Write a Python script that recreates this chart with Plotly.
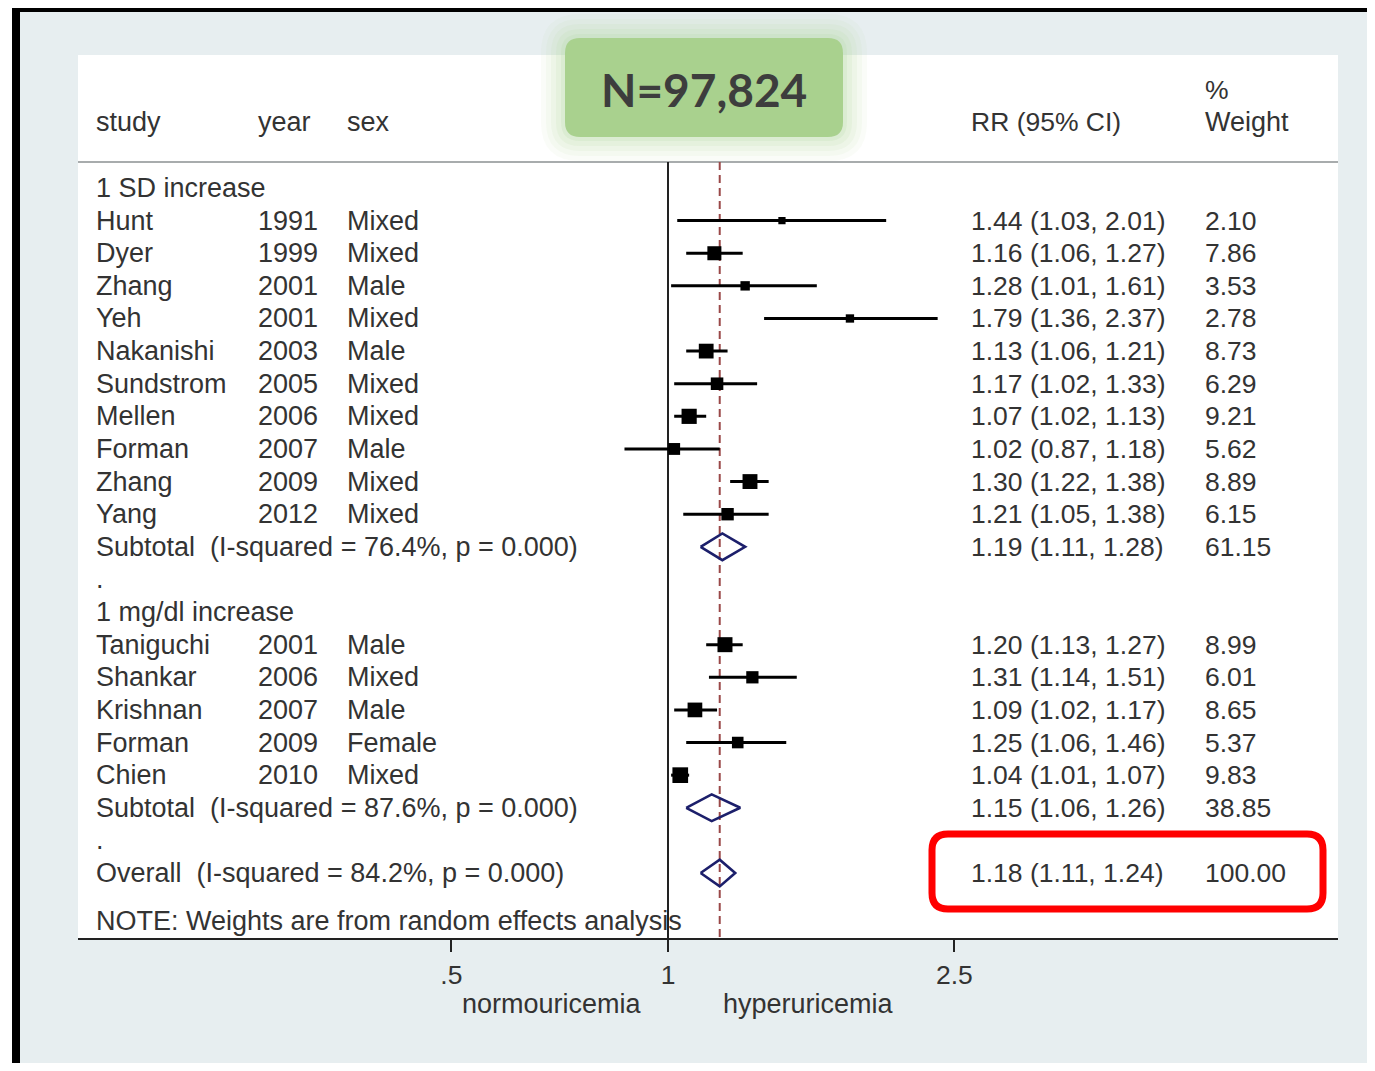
import math
import plotly.graph_objects as go

# ---------------- data ----------------
group_labels = ["1 SD increase", "1 mg/dl increase"]

studies1 = ["Hunt", "Dyer", "Zhang", "Yeh", "Nakanishi", "Sundstrom", "Mellen", "Forman", "Zhang", "Yang"]
years1 = [1991, 1999, 2001, 2001, 2003, 2005, 2006, 2007, 2009, 2012]
sex1 = ["Mixed", "Mixed", "Male", "Mixed", "Male", "Mixed", "Mixed", "Male", "Mixed", "Mixed"]
rr1 = [1.44, 1.16, 1.28, 1.79, 1.13, 1.17, 1.07, 1.02, 1.30, 1.21]
lo1 = [1.03, 1.06, 1.01, 1.36, 1.06, 1.02, 1.02, 0.87, 1.22, 1.05]
hi1 = [2.01, 1.27, 1.61, 2.37, 1.21, 1.33, 1.13, 1.18, 1.38, 1.38]
w1 = [2.10, 7.86, 3.53, 2.78, 8.73, 6.29, 9.21, 5.62, 8.89, 6.15]
sub1 = {"rr": 1.19, "lo": 1.11, "hi": 1.28, "w": 61.15, "i2": "76.4%", "p": "0.000"}

studies2 = ["Taniguchi", "Shankar", "Krishnan", "Forman", "Chien"]
years2 = [2001, 2006, 2007, 2009, 2010]
sex2 = ["Male", "Mixed", "Male", "Female", "Mixed"]
rr2 = [1.20, 1.31, 1.09, 1.25, 1.04]
lo2 = [1.13, 1.14, 1.02, 1.06, 1.01]
hi2 = [1.27, 1.51, 1.17, 1.46, 1.07]
w2 = [8.99, 6.01, 8.65, 5.37, 9.83]
sub2 = {"rr": 1.15, "lo": 1.06, "hi": 1.26, "w": 38.85, "i2": "87.6%", "p": "0.000"}

overall = {"rr": 1.18, "lo": 1.11, "hi": 1.24, "w": 100.00, "i2": "84.2%", "p": "0.000"}

tick_vals = [0.5, 1, 2.5]
tick_text = [".5", "1", "2.5"]
n_label = "N=97,824"
note_text = "NOTE: Weights are from random effects analysis"

# ---------------- layout constants ----------------
OFF = 8                                    # page body margin
PAGE_W, PAGE_H = 1375, 1071
W, H = PAGE_W - 2 * OFF, PAGE_H - 2 * OFF  # figure size (avoid scrollbars)
# positions below are page pixels; converted to figure pixels by subtracting OFF
PL, PR, PT, PB = 78, 1338, 55, 938         # plot area
ROW0, ROWH = 188, 32.62                    # first row centre, row height
PX_PER_LN, X_ONE = 312.5, 668

def px_x(px):
    return (px - PL) / (PR - PL)

def px_y(py):
    return (PB - py) / (PB - PT)

def row_of(py):
    return (py - ROW0) / ROWH

FONT = "Liberation Sans, Arial, sans-serif"
TXT = "#333333"
TS = 27     # text size
NS = 26.5   # number size

fig = go.Figure()

# ---------------- rows ----------------
rows = []
rows.append(("label", group_labels[0]))
for i in range(len(studies1)):
    rows.append(("study", (studies1[i], years1[i], sex1[i], rr1[i], lo1[i], hi1[i], w1[i])))
rows.append(("sub", ("Subtotal", sub1)))
rows.append(("dot", None))
rows.append(("label", group_labels[1]))
for i in range(len(studies2)):
    rows.append(("study", (studies2[i], years2[i], sex2[i], rr2[i], lo2[i], hi2[i], w2[i])))
rows.append(("sub", ("Subtotal", sub2)))
rows.append(("dot", None))
rows.append(("sub", ("Overall", overall)))

xcol = {"study": px_x(94), "year": px_x(256), "sex": px_x(345), "ci": px_x(969), "w": px_x(1203)}

annotations = []

def add_text(x, y, text, size=TS, yref="y"):
    annotations.append(dict(x=x, y=y, xref="paper", yref=yref, text=text, showarrow=False,
                            xanchor="left", yanchor="middle",
                            font=dict(family=FONT, size=size, color=TXT)))

# reference lines (drawn first, under marks)
top_row = row_of(162)
bot_row = row_of(PB)
fig.add_trace(go.Scatter(x=[overall["rr"], overall["rr"]], y=[top_row, bot_row], mode="lines",
                         line=dict(color="#9a4848", width=2, dash="8px,5px"),
                         hoverinfo="skip", showlegend=False))
fig.add_trace(go.Scatter(x=[1, 1], y=[top_row, bot_row], mode="lines",
                         line=dict(color="#222222", width=2),
                         hoverinfo="skip", showlegend=False))

ci_x, ci_y, mk_x, mk_y, mk_s = [], [], [], [], []
dia_x, dia_y = [], []
DH = 0.41

for r, (kind, p) in enumerate(rows):
    if kind == "label":
        add_text(xcol["study"], r, p)
    elif kind == "dot":
        add_text(xcol["study"], r, ".")
    elif kind == "study":
        name, yr, sx, rr, lo, hi, w = p
        add_text(xcol["study"], r, name)
        add_text(xcol["year"], r, str(yr))
        add_text(xcol["sex"], r, sx)
        add_text(xcol["ci"], r, f"{rr:.2f} ({lo:.2f}, {hi:.2f})", NS)
        add_text(xcol["w"], r, f"{w:.2f}", NS)
        ci_x += [lo, hi, None]
        ci_y += [r, r, None]
        mk_x.append(rr)
        mk_y.append(r)
        mk_s.append(5.0 * math.sqrt(w))
    elif kind == "sub":
        name, d = p
        add_text(xcol["study"], r,
                 f"{name}\u00a0\u00a0(I-squared = {d['i2']}, p = {d['p']})")
        add_text(xcol["ci"], r, f"{d['rr']:.2f} ({d['lo']:.2f}, {d['hi']:.2f})", NS)
        add_text(xcol["w"], r, f"{d['w']:.2f}", NS)
        dia_x += [d["lo"], d["rr"], d["hi"], d["rr"], d["lo"], None]
        dia_y += [r, r - DH, r, r + DH, r, None]

# note
add_text(xcol["study"], row_of(921), note_text)

# header
add_text(xcol["study"], row_of(122), "study")
add_text(xcol["year"], row_of(122), "year")
add_text(xcol["sex"], row_of(122), "sex")
add_text(xcol["ci"], row_of(122), "RR (95% CI)", NS)
add_text(xcol["w"], row_of(90), "%", NS)
add_text(xcol["w"], row_of(122), "Weight", TS)

# favours labels
for txt, cx in [("normouricemia", 552), ("hyperuricemia", 808)]:
    annotations.append(dict(x=px_x(cx), y=px_y(1004), xref="paper", yref="paper", text=txt,
                            showarrow=False, xanchor="center", yanchor="middle",
                            font=dict(family=FONT, size=TS, color=TXT)))

# N label
annotations.append(dict(x=px_x(704), y=px_y(89), xref="paper", yref="paper", text=f"<b>{n_label}</b>",
                        showarrow=False, xanchor="center", yanchor="middle",
                        font=dict(family="Lato, Open Sans, sans-serif", size=46, color="#3d3d3d")))

fig.add_trace(go.Scatter(x=ci_x, y=ci_y, mode="lines", line=dict(color="#000000", width=3),
                         hoverinfo="skip", showlegend=False))
fig.add_trace(go.Scatter(x=mk_x, y=mk_y, mode="markers",
                         marker=dict(symbol="square", size=mk_s, color="#000000", opacity=1,
                                     line=dict(width=0)),
                         hoverinfo="skip", showlegend=False))
fig.add_trace(go.Scatter(x=dia_x, y=dia_y, mode="lines", line=dict(color="#1c1f6b", width=2.6),
                         hoverinfo="skip", showlegend=False))

# ---------------- decorative shapes ----------------
def rrect_path(x0, y0, x1, y1, r):
    def P(x, y):
        return f"{px_x(x):.5f},{px_y(y):.5f}"
    return (f"M {P(x0 + r, y0)} L {P(x1 - r, y0)} Q {P(x1, y0)} {P(x1, y0 + r)} "
            f"L {P(x1, y1 - r)} Q {P(x1, y1)} {P(x1 - r, y1)} L {P(x0 + r, y1)} "
            f"Q {P(x0, y1)} {P(x0, y1 - r)} L {P(x0, y0 + r)} Q {P(x0, y0)} {P(x0 + r, y0)} Z")

shapes = []
def prect(x0, y0, x1, y1, fill, layer="below"):
    shapes.append(dict(type="rect", xref="paper", yref="paper", x0=px_x(x0), x1=px_x(x1),
                       y0=px_y(y1), y1=px_y(y0), fillcolor=fill, line=dict(width=0), layer=layer))

prect(20, 12, PAGE_W + 20, PAGE_H + 20, "#e7eef0")
prect(PL, PT, PR, PB, "#ffffff")
prect(12, 0, PAGE_W + 20, 12, "#000000")
prect(12, 0, 20, PAGE_H + 20, "#000000")
# header rule
shapes.append(dict(type="line", xref="paper", yref="paper", x0=0, x1=1, y0=px_y(162), y1=px_y(162),
                   line=dict(color="#a8acad", width=2), layer="below"))

# soft glow + green box
for g, a in [(24, 0.07), (19, 0.08), (14, 0.10), (9, 0.13), (4, 0.18)]:
    shapes.append(dict(type="path", xref="paper", yref="paper",
                       path=rrect_path(565 - g, 38 - g, 843 + g, 137 + g, 15 + g),
                       fillcolor=f"rgba(178,214,158,{a})", line=dict(width=0), layer="above"))
shapes.append(dict(type="path", xref="paper", yref="paper", path=rrect_path(565, 38, 843, 137, 15),
                   fillcolor="#a9d18e", line=dict(width=0), layer="above"))
# red highlight box
shapes.append(dict(type="path", xref="paper", yref="paper", path=rrect_path(932, 834, 1323, 909, 16),
                   fillcolor="rgba(0,0,0,0)", line=dict(color="#ff0000", width=7), layer="above"))

xr = [math.log10(math.exp((PL - X_ONE) / PX_PER_LN)), math.log10(math.exp((PR - X_ONE) / PX_PER_LN))]
yr = [row_of(PB), row_of(PT)]

fig.update_layout(
    width=W, height=H, autosize=False,
    margin=dict(l=PL - OFF, r=W - (PR - OFF), t=PT - OFF, b=H - (PB - OFF), pad=0),
    paper_bgcolor="#ffffff", plot_bgcolor="rgba(0,0,0,0)",
    showlegend=False,
    xaxis=dict(type="log", range=xr, tickvals=tick_vals, ticktext=tick_text,
               showline=True, linecolor="#222222", linewidth=2, ticks="outside", ticklen=12,
               tickwidth=2, tickcolor="#222222", showgrid=False, zeroline=False,
               tickfont=dict(family=FONT, size=NS, color=TXT), fixedrange=True),
    yaxis=dict(range=yr, visible=False, fixedrange=True),
    shapes=shapes, annotations=annotations,
)

fig.write_html("out.html")
